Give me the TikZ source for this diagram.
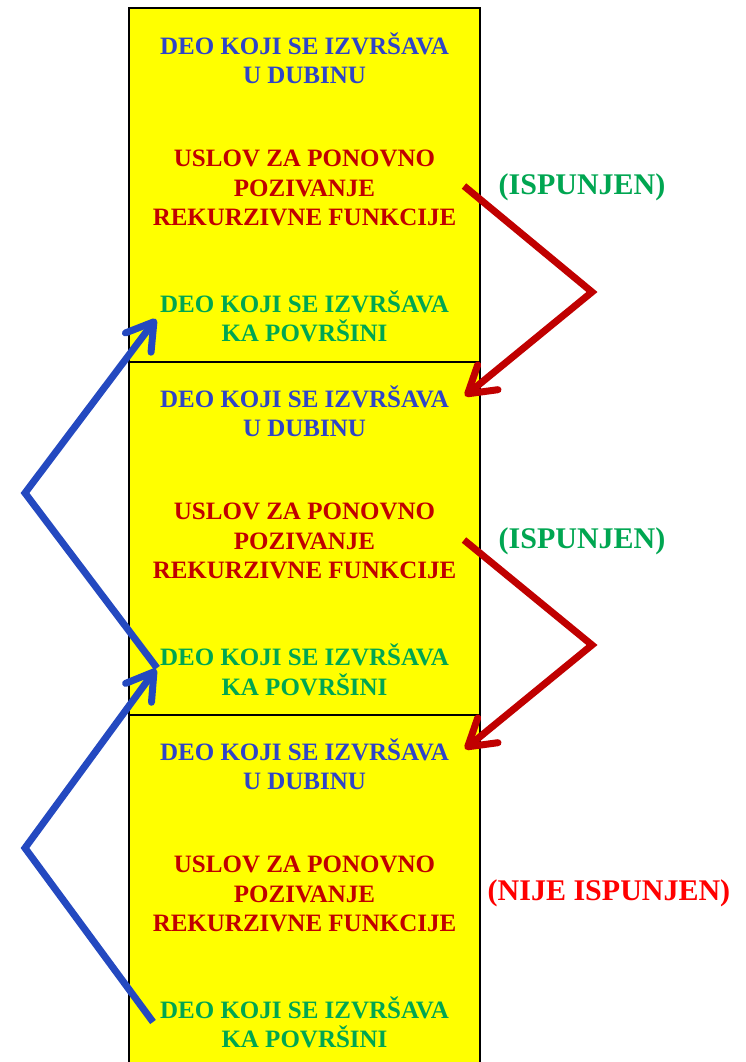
\documentclass[tikz,border=0pt]{standalone}
\usepackage{fontspec}
\setmainfont{Liberation Serif}
\usetikzlibrary{arrows.meta}
\definecolor{boxyellow}{HTML}{FFFF00}
\definecolor{downblue}{HTML}{2E44C8}
\definecolor{condred}{HTML}{C00000}
\definecolor{upgreen}{HTML}{00A651}
\definecolor{notred}{HTML}{FF0000}
\definecolor{arrowblue}{HTML}{2449C0}
\definecolor{arrowred}{HTML}{C00000}
\tikzset{
  x=1pt, y=-1pt,
  frame/.style={draw=black, line width=2pt, fill=boxyellow, minimum width=351pt, minimum height=353pt, inner sep=0pt, outer sep=0pt},
  txt/.style={align=center, font=\fontsize{25}{29.5}\selectfont\bfseries, inner sep=0pt},
  outcome/.style={align=center, font=\fontsize{30}{34}\selectfont\bfseries, inner sep=0pt},
  down/.style={txt, text=downblue},
  cond/.style={txt, text=condred},
  up/.style={txt, text=upgreen},
  flow/.style={line width=7pt, line join=miter, -{Straight Barb[length=26pt, width=32pt, line width=7pt, round]}},
}
\begin{document}
\begin{tikzpicture}
\useasboundingbox (0,0) rectangle (746,1062);

% three stacked activation frames
\foreach \i/\yc in {1/185, 2/538.5, 3/891.5} {
  \node[frame] (f\i) at (304.5,\yc) {};
}

% frame 1
\node[down] (d1) at (304.5,58.5) {DEO KOJI SE IZVRŠAVA\\U DUBINU};
\node[cond] (c1) at (304.5,188) {USLOV ZA PONOVNO\\POZIVANJE\\REKURZIVNE FUNKCIJE};
\node[up]   (u1) at (304.5,316.5) {DEO KOJI SE IZVRŠAVA\\KA POVRŠINI};
% frame 2
\node[down] (d2) at (304.5,411.5) {DEO KOJI SE IZVRŠAVA\\U DUBINU};
\node[cond] (c2) at (304.5,541) {USLOV ZA PONOVNO\\POZIVANJE\\REKURZIVNE FUNKCIJE};
\node[up]   (u2) at (304.5,670) {DEO KOJI SE IZVRŠAVA\\KA POVRŠINI};
% frame 3
\node[down] (d3) at (304.5,764.5) {DEO KOJI SE IZVRŠAVA\\U DUBINU};
\node[cond] (c3) at (304.5,894) {USLOV ZA PONOVNO\\POZIVANJE\\REKURZIVNE FUNKCIJE};
\node[up]   (u3) at (304.5,1022.5) {DEO KOJI SE IZVRŠAVA\\KA POVRŠINI};

% condition outcomes
\node[outcome, text=upgreen] (s1) at (582,187) {(ISPUNJEN)};
\node[outcome, text=upgreen] (s2) at (582,541) {(ISPUNJEN)};
\node[outcome, text=notred]  (s3) at (609,893) {(NIJE ISPUNJEN)};

% descent: condition of one frame calls the next
\coordinate (r1s) at (464,186);
\coordinate (r1m) at (592,292);
\coordinate (r1e) at (465,396);
\coordinate (r2s) at (464,540);
\coordinate (r2m) at (592,645);
\coordinate (r2e) at (465,749);
\draw[flow, arrowred] (r1s) -- (r1m) -- (r1e);
\draw[flow, arrowred] (r2s) -- (r2m) -- (r2e);

% ascent: return to the caller's surface part
\coordinate (b1s) at (153,1022);
\coordinate (b1m) at (25,848);
\coordinate (b1e) at (156,669);
\coordinate (b2s) at (157,668);
\coordinate (b2m) at (25,493);
\coordinate (b2e) at (156,319);
\draw[flow, arrowblue] (b1s) -- (b1m) -- (b1e);
\draw[flow, arrowblue] (b2s) -- (b2m) -- (b2e);
\end{tikzpicture}
\end{document}
